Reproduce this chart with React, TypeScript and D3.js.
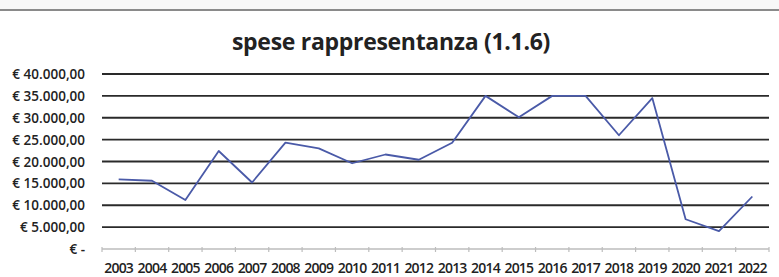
import * as React from "react";
import * as d3 from "d3";

const years = ["2003", "2004", "2005", "2006", "2007", "2008", "2009", "2010", "2011", "2012",
  "2013", "2014", "2015", "2016", "2017", "2018", "2019", "2020", "2021", "2022"];
const spese = [15900, 15600, 11200, 22400, 15200, 24300, 23000, 19600, 21600, 20400,
  24300, 35000, 30100, 35000, 35000, 26000, 34500, 6800, 4100, 12000];
const yTicks = [0, 5000, 10000, 15000, 20000, 25000, 30000, 35000, 40000];
const yTickLabels = ["€ -", "€ 5.000,00", "€ 10.000,00", "€ 15.000,00", "€ 20.000,00",
  "€ 25.000,00", "€ 30.000,00", "€ 35.000,00", "€ 40.000,00"];

function drawChart(svgRef: React.RefObject<SVGSVGElement>) {
  const width = 779;
  const height = 277;
  const margin = { top: 74, right: 10, bottom: 28, left: 102 };

  const svg = d3.select(svgRef.current).attr("width", width).attr("height", height);
  svg.selectAll("*").remove();

  const x = d3.scaleBand().domain(years).range([margin.left, 769]).padding(0);
  const y = d3.scaleLinear().domain([0, 40000]).range([249, margin.top]);

  // scan border at top
  svg.append("rect").attr("x", 0).attr("y", 0).attr("width", width).attr("height", 9).attr("fill", "#f7f7f7");
  svg.append("line").attr("x1", 0).attr("x2", width).attr("y1", 10).attr("y2", 10)
    .attr("stroke", "#8a8a8a").attr("stroke-width", 2);

  svg.append("text")
    .attr("x", 391).attr("y", 50)
    .attr("text-anchor", "middle")
    .style("font-family", "'Open Sans', sans-serif")
    .style("font-weight", "bold")
    .style("font-size", "23px")
    .style("letter-spacing", "-0.3px")
    .style("fill", "#222")
    .text("spese rappresentanza (1.1.6)");

  // gridlines
  svg.append("g")
    .selectAll("line")
    .data(yTicks.filter((d) => d > 0))
    .enter()
    .append("line")
    .attr("x1", margin.left).attr("x2", 769)
    .attr("y1", (d) => y(d)).attr("y2", (d) => y(d))
    .attr("stroke", "#2a2a2a").attr("stroke-width", 1.8);

  // y labels
  svg.append("g")
    .selectAll("text")
    .data(yTicks)
    .enter()
    .append("text")
    .attr("x", 85)
    .attr("y", (d) => y(d) + 5)
    .attr("text-anchor", "end")
    .style("font-family", "'Open Sans', sans-serif")
    .style("font-weight", 600)
    .style("font-size", "13.5px")
    .style("fill", "#222")
    .text((_, i) => yTickLabels[i]);

  // x axis
  const xAxis = svg.append("g").attr("transform", `translate(0, ${y(0)})`);
  xAxis.append("line").attr("x1", margin.left).attr("x2", 769)
    .attr("stroke", "#bdbdbd").attr("stroke-width", 1.5);
  xAxis.selectAll(".tk")
    .data([...years.map((d) => x(d) as number), 769])
    .enter()
    .append("line")
    .attr("x1", (d) => d).attr("x2", (d) => d)
    .attr("y1", -2).attr("y2", 3)
    .attr("stroke", "#bdbdbd").attr("stroke-width", 1.2);
  xAxis.selectAll("text")
    .data(years)
    .enter()
    .append("text")
    .attr("x", (d) => (x(d) as number) + x.bandwidth() / 2)
    .attr("y", 24)
    .attr("text-anchor", "middle")
    .style("font-family", "'Open Sans', sans-serif")
    .style("font-weight", 600)
    .style("font-size", "14px")
    .style("letter-spacing", "-0.8px")
    .style("fill", "#222")
    .text((d) => d);

  const line = d3.line<number>()
    .x((_, i) => (x(years[i]) as number) + x.bandwidth() / 2)
    .y((d) => y(d));

  svg.append("path")
    .datum(spese)
    .attr("d", line)
    .attr("fill", "none")
    .attr("stroke", "#4a5aa8")
    .attr("stroke-width", 1.8)
    .attr("stroke-linejoin", "round");
}

const App: React.FunctionComponent = () => {
  const svg = React.useRef<SVGSVGElement>(null);
  React.useEffect(() => {
    drawChart(svg);
  }, [svg]);

  return (
    <div style={{ position: "absolute", left: 0, top: 0, background: "#fff" }}>
      <svg ref={svg} style={{ display: "block" }} />
    </div>
  );
};

export default App;
